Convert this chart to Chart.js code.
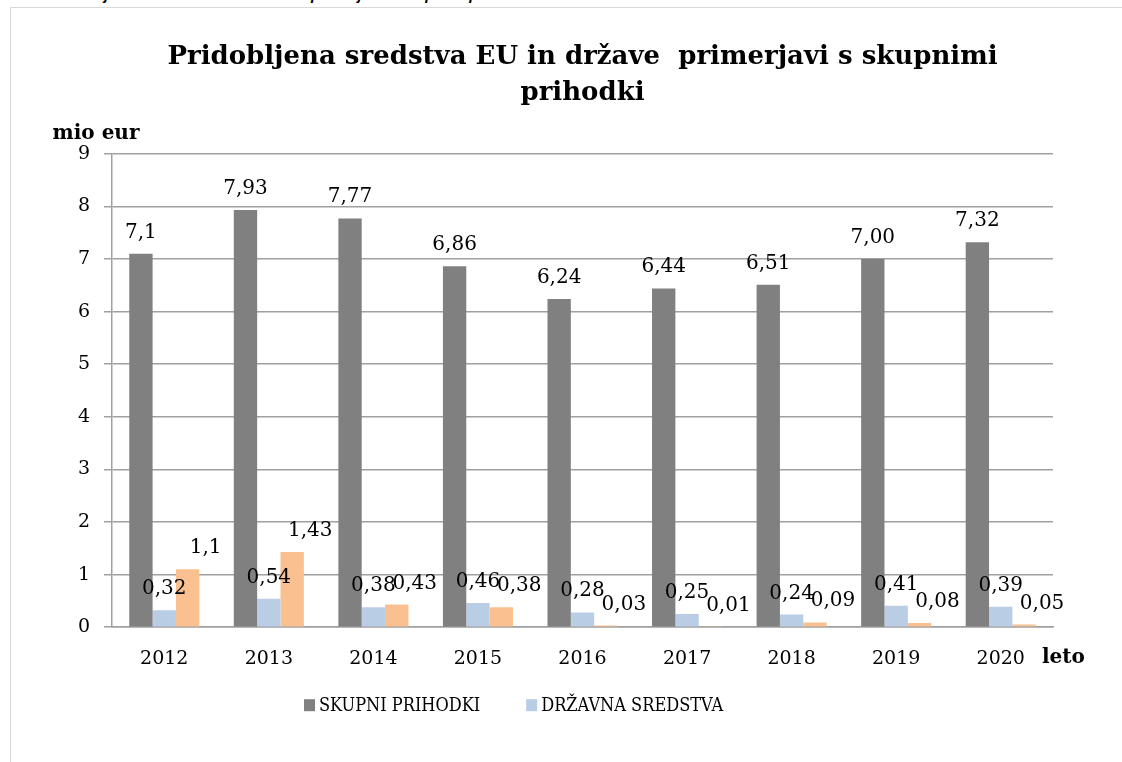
<html>
<head>
<meta charset="utf-8">
<script src="https://cdn.jsdelivr.net/npm/chart.js@4"></script>
<style>
	body { margin: 0; background: #fff; overflow: hidden; }
	#caption { position: absolute; left: 0; top: -14px; font: italic bold 15px 'Liberation Sans', sans-serif; line-height: 18px; white-space: nowrap; }
	#frame { position: absolute; left: 10px; top: 7px; width: 1200px; height: 800px; border: 1px solid #d9d9d9; }
	#myChart { position: absolute; left: 0; top: 0; }
</style>
</head>
<body>
	<div id="caption">Graf 3: Pridobljena sredstva EU in države v primerjavi s skupnimi prihodki</div>
	<div id="frame"></div>
	<canvas id="myChart" width="1122" height="762"></canvas>
<script>
		var years = ['2012', '2013', '2014', '2015', '2016', '2017', '2018', '2019', '2020'];
		var skupni = [7.1, 7.93, 7.77, 6.86, 6.24, 6.44, 6.51, 7.00, 7.32];
		var drzavna = [0.32, 0.54, 0.38, 0.46, 0.28, 0.25, 0.24, 0.41, 0.39];
		var eu = [1.1, 1.43, 0.43, 0.38, 0.03, 0.01, 0.09, 0.08, 0.05];
		// labels as shown in the picture
		var skupniLabels = ['7,1', '7,93', '7,77', '6,86', '6,24', '6,44', '6,51', '7,00', '7,32'];
		var drzavnaLabels = ['0,32', '0,54', '0,38', '0,46', '0,28', '0,25', '0,24', '0,41', '0,39'];
		var euLabels = ['1,1', '1,43', '0,43', '0,38', '0,03', '0,01', '0,09', '0,08', '0,05'];
		var yTicks = [0, 1, 2, 3, 4, 5, 6, 7, 8, 9];

		var serif = "'DejaVu Serif', serif";

		var valueLabels = {
			id: 'valueLabels',
			afterDatasetsDraw: function(chart) {
				var ctx = chart.ctx;
				var all = [skupniLabels, drzavnaLabels, euLabels];
				var shift = [0, 0, 18];
				ctx.save();
				ctx.font = '20px ' + serif;
				ctx.fillStyle = '#000';
				ctx.textAlign = 'center';
				ctx.textBaseline = 'alphabetic';
				for (var d = 0; d < all.length; ++d) {
					var meta = chart.getDatasetMeta(d);
					for (var i = 0; i < meta.data.length; ++i) {
						var bar = meta.data[i];
						ctx.fillText(all[d][i], bar.x + shift[d], bar.y - 16);
					}
				}
				ctx.restore();
			}
		};

		var extraText = {
			id: 'extraText',
			afterDraw: function(chart) {
				var ctx = chart.ctx;
				var a = chart.chartArea;
				ctx.save();
				ctx.fillStyle = '#000';
				ctx.font = 'bold 20px ' + serif;
				ctx.textBaseline = 'middle';
				ctx.textAlign = 'center';
				ctx.fillText('mio eur', a.left - 16, a.top - 20);
				ctx.textAlign = 'left';
				ctx.fillText('leto', a.right - 11, a.bottom + 31);

				// legend (orange series has no entry)
				ctx.font = "18px 'DejaVu Serif Condensed', 'Liberation Serif', serif";
				var x = a.left + 192;
				var y = a.bottom + 78;
				for (var d = 0; d < 2; ++d) {
					var ds = chart.data.datasets[d];
					ctx.fillStyle = ds.backgroundColor;
					ctx.fillRect(x, y - 6, 11, 12);
					ctx.fillStyle = '#000';
					ctx.fillText(ds.label, x + 15, y + 1);
					x += 15 + ctx.measureText(ds.label).width + 46;
				}
				ctx.restore();
			}
		};

		var ctx = document.getElementById('myChart').getContext('2d');
		var chart = new Chart(ctx, {
			type: 'bar',
			data: {
				labels: years,
				datasets: [{
					label: 'SKUPNI PRIHODKI',
					backgroundColor: '#808080',
					data: skupni
				}, {
					label: 'DRŽAVNA SREDSTVA',
					backgroundColor: '#b9cde5',
					data: drzavna
				}, {
					label: 'EU SREDSTVA',
					backgroundColor: '#fac090',
					data: eu
				}]
			},
			options: {
				responsive: false,
				animation: false,
				categoryPercentage: 0.67,
				barPercentage: 1.0,
				layout: { padding: { left: 0, right: 69, top: 0, bottom: 80 } },
				plugins: {
					legend: { display: false },
					tooltip: { enabled: false },
					title: {
						display: true,
						fullSize: false,
						text: ['Pridobljena sredstva EU in države  primerjavi s skupnimi', 'prihodki'],
						color: '#000',
						font: { family: serif, size: 26, weight: 'bold', lineHeight: 1.4 },
						padding: { top: 39, bottom: 42 }
					}
				},
				scales: {
					x: {
						grid: { display: false },
						border: { display: true, color: '#a0a0a0', width: 1.5 },
						ticks: { color: '#000', font: { family: serif, size: 19 }, padding: 12 }
					},
					y: {
						min: 0,
						max: 9,
						afterFit: function(scale) { scale.width = 112; },
						afterBuildTicks: function(scale) { scale.ticks = yTicks.map(function(v) { return { value: v }; }); },
						grid: { color: '#a0a0a0', lineWidth: 1.5, tickLength: 8 },
						border: { display: true, color: '#a0a0a0', width: 1.5 },
						ticks: { color: '#000', font: { family: serif, size: 19 }, padding: 14 }
					}
				}
			},
			plugins: [valueLabels, extraText]
		});
</script>
</body>
</html>
